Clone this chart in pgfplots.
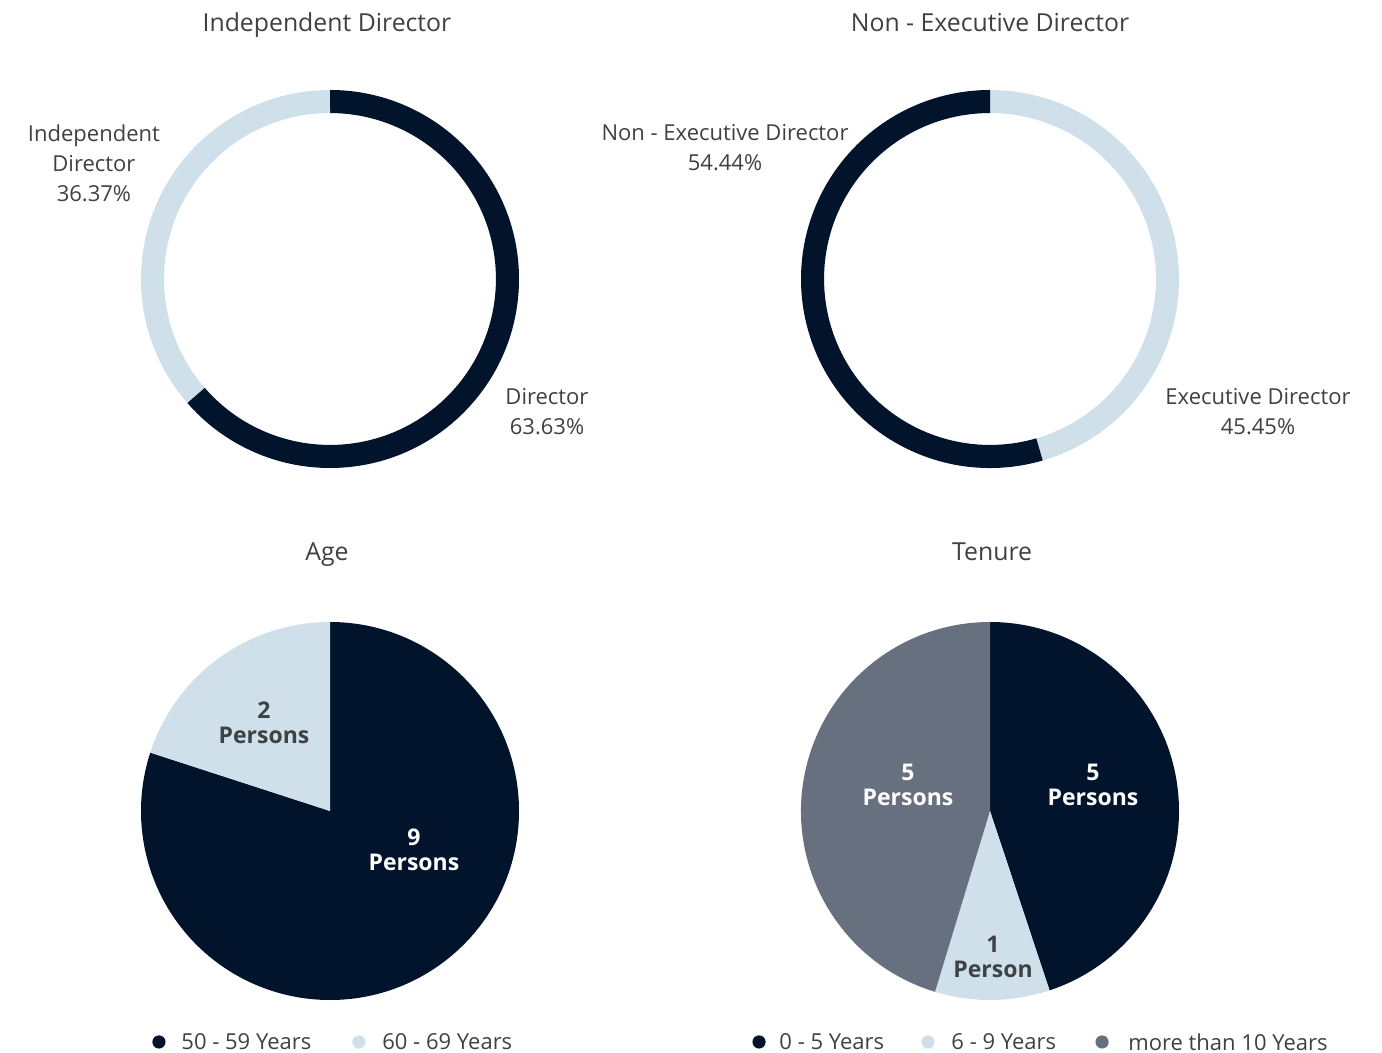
\documentclass[border=0pt]{standalone}
\usepackage{pgfplots}
\pgfplotsset{compat=1.18}
\usepackage{fontspec}
\setmainfont{Open Sans}
\definecolor{navy}{HTML}{01142B}
\definecolor{lightb}{HTML}{CFE0EB}
\definecolor{slate}{HTML}{66707F}
\definecolor{txt}{HTML}{404040}
\definecolor{intxt}{HTML}{3D4344}

% ---------------- data ----------------
% Independent Director donut
\def\IndDir{36.37}\def\Dir{63.63}
% Non - Executive Director donut
\def\NonExec{54.44}\def\Exec{45.45}
% Age pie: labels (persons) and slice shares as drawn
\def\AgeA{9}\def\AgeB{2}
\def\AgeShareA{80}\def\AgeShareB{20}
% Tenure pie: labels (persons) and slice shares as drawn
\def\TenA{5}\def\TenB{1}\def\TenC{5}
\def\TenShareA{44.9}\def\TenShareB{9.8}\def\TenShareC{45.3}

\def\PieR{94.5pt}
\def\PieRin{0.878}
% ring slice: start angle, end angle, colour
\newcommand{\ringslice}[3]{%
  \fill[#3] (axis cs:{cos(#1)},{sin(#1)}) arc[start angle={#1},end angle={#2},radius=\PieR]
    -- (axis cs:{\PieRin*cos(#2)},{\PieRin*sin(#2)}) arc[start angle={#2},end angle={#1},radius=\PieRin*\PieR] -- cycle;}
% pie slice
\newcommand{\pieslice}[3]{%
  \fill[#3] (axis cs:0,0) -- (axis cs:{cos(#1)},{sin(#1)}) arc[start angle={#1},end angle={#2},radius=\PieR] -- cycle;}

\pgfplotsset{piestyle/.style={hide axis, x=\PieR, y=\PieR, xmin=-1, xmax=1, ymin=-1, ymax=1,
  clip=false, anchor=center}}
\tikzset{lab/.style={text=txt, align=center, font=\fontsize{11}{15}\selectfont, inner sep=0pt},
  ttl/.style={text=txt, anchor=base, font=\fontsize{12.4}{15}\selectfont, inner sep=0pt},
  inlab/.style={align=center, font=\fontsize{11.5}{12.5}\selectfont\bfseries, inner sep=0pt},
  leg/.style={text=txt, anchor=west, font=\fontsize{11}{15}\selectfont, inner sep=0pt}}

\begin{document}
\begin{tikzpicture}
\path[use as bounding box] (0,0) rectangle (691pt,-526.5pt);

% ---- Independent Director ----
\begin{axis}[piestyle, at={(165pt,-139.5pt)}]
\ringslice{90}{90-360*(\Dir/(\Dir+\IndDir))}{navy}
\ringslice{90-360*(\Dir/(\Dir+\IndDir))}{-270}{lightb}
\node[ttl] at (axis cs:-0.016,1.307) {Independent Director};
\node[lab] at (axis cs:-1.249,0.614) {Independent\\Director\\\IndDir\%};
\node[lab] at (axis cs:1.148,-0.704) {Director\\\Dir\%};
\end{axis}

% ---- Non - Executive Director ----
\begin{axis}[piestyle, at={(495pt,-139.5pt)}]
\ringslice{90}{90-360*(\Exec/(\Exec+\NonExec))}{lightb}
\ringslice{90-360*(\Exec/(\Exec+\NonExec))}{-270}{navy}
\node[ttl] at (axis cs:0,1.307) {Non - Executive Director};
\node[lab] at (axis cs:-1.402,0.693) {Non - Executive Director\\\NonExec\%};
\node[lab] at (axis cs:1.418,-0.704) {Executive Director\\\Exec\%};
\end{axis}

% ---- Age ----
\begin{axis}[piestyle, at={(165pt,-405.5pt)}]
\pieslice{90}{90-360*(\AgeShareA/(\AgeShareA+\AgeShareB))}{navy}
\pieslice{90-360*(\AgeShareA/(\AgeShareA+\AgeShareB))}{-270}{lightb}
\node[ttl] at (axis cs:-0.016,1.323) {Age};
\node[inlab, text=intxt] at (axis cs:-0.349,0.466) {\AgeB\\Persons};
\node[inlab, text=white] at (axis cs:0.444,-0.206) {\AgeA\\Persons};
\fill[navy] (axis cs:-0.905,-1.222) circle[radius=3.3pt];
\node[leg] at (axis cs:-0.788,-1.222) {50 - 59 Years};
\fill[lightb] (axis cs:0.153,-1.222) circle[radius=3.3pt];
\node[leg] at (axis cs:0.275,-1.222) {60 - 69 Years};
\end{axis}

% ---- Tenure ----
\begin{axis}[piestyle, at={(495pt,-405.5pt)}]
\pieslice{90}{90-360*(\TenShareA/(\TenShareA+\TenShareB+\TenShareC))}{navy}
\pieslice{90-360*(\TenShareA/(\TenShareA+\TenShareB+\TenShareC))}{90-360*((\TenShareA+\TenShareB)/(\TenShareA+\TenShareB+\TenShareC))}{lightb}
\pieslice{90-360*((\TenShareA+\TenShareB)/(\TenShareA+\TenShareB+\TenShareC))}{-270}{slate}
\node[ttl] at (axis cs:0.011,1.323) {Tenure};
\node[inlab, text=white] at (axis cs:0.545,0.138) {\TenA\\Persons};
\node[inlab, text=white] at (axis cs:-0.434,0.138) {\TenC\\Persons};
\node[inlab, text=intxt] at (axis cs:0.016,-0.772) {\TenB\\Person};
\fill[navy] (axis cs:-1.222,-1.222) circle[radius=3.3pt];
\node[leg] at (axis cs:-1.116,-1.222) {0 - 5 Years};
\fill[lightb] (axis cs:-0.328,-1.222) circle[radius=3.3pt];
\node[leg] at (axis cs:-0.206,-1.222) {6 - 9 Years};
\fill[slate] (axis cs:0.593,-1.222) circle[radius=3.3pt];
\node[leg] at (axis cs:0.730,-1.222) {more than 10 Years};
\end{axis}
\end{tikzpicture}
\end{document}
